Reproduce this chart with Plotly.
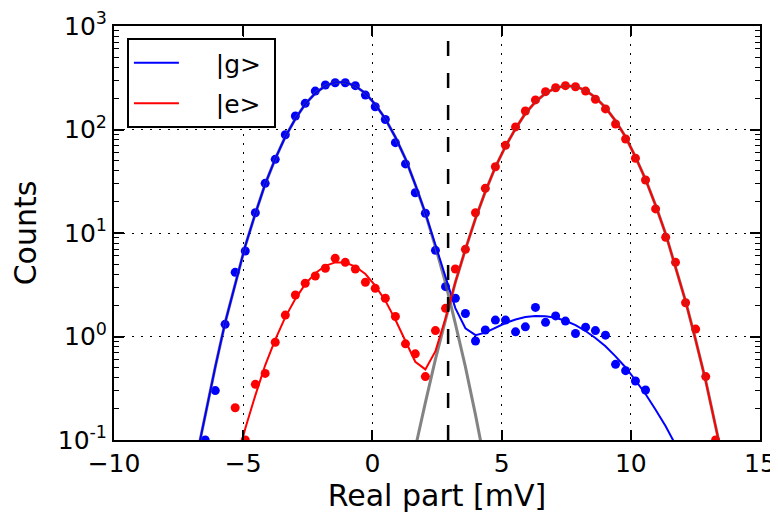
import plotly.graph_objects as go

# bin centres of the histogram [mV]
real_mv = [-6.86, -6.47, -6.08, -5.70, -5.31, -4.92, -4.53, -4.15, -3.76, -3.37,
           -2.98, -2.60, -2.21, -1.82, -1.44, -1.05, -0.66, -0.27, 0.11, 0.50,
           0.89, 1.28, 1.66, 2.05, 2.44, 2.83, 3.21, 3.60, 3.99, 4.37,
           4.76, 5.15, 5.54, 5.92, 6.31, 6.70, 7.09, 7.47, 7.86, 8.25,
           8.63, 9.02, 9.41, 9.80, 10.18, 10.57, 10.96, 11.35, 11.73, 12.12,
           12.51, 12.90, 13.28, 13.67]

# measured histograms
counts_g = [None, 0.1, 0.30, 1.31, 4.17, 6.7, 15.7, 30.2, 51.5, 89,
            135, 179, 235, 269, 283, 283, 265, 215, 166, 125,
            74.6, 46.5, 24.5, 15.5, 6.8, 3.03, 2.34, 1.67, 0.905, 1.156,
            1.44, 1.44, 1.11, 1.24, 1.91, 1.37, 1.58, 1.41, 1.07, 1.23,
            1.14, 1.03, 0.538, 0.468, 0.372, 0.304, None, None, None, None,
            None, None, None, None]
counts_e = [None, None, None, None, 0.205, 0.1, 0.345, 0.44, 0.88, 1.61,
            2.52, 3.27, 3.84, 4.56, 5.69, 5.21, 4.49, 3.34, 2.92, 2.34,
            1.56, 0.85, 0.68, 0.41, 1.14, 1.87, 4.49, 6.95, 15.7, 27,
            43.7, 70.3, 106, 151, 193, 232, 253, 265, 259, 235,
            196, 158, 113, 81, 52.7, 32.5, 17.1, 9.09, 5.21, 2.12,
            1.18, 0.41, 0.1, None]

# fitted curves (double gaussian fits)
fit_g = [0.0586, 0.179, 0.509, 1.36, 3.30, 7.50, 15.4, 29.7, 52.0, 85.1,
         127, 176, 224, 264, 286, 286, 263, 224, 175, 127,
         84.1, 52.1, 29.3, 15.6, 7.66, 3.72, 1.88, 1.20, 1.03, 1.09,
         1.21, 1.35, 1.46, 1.54, 1.58, 1.57, 1.52, 1.42, 1.29, 1.13,
         0.968, 0.804, 0.643, 0.502, 0.378, 0.278, 0.196, 0.136, 0.090, 0.059,
         None, None, None, None]
fit_e = [None, None, None, None, 0.056, 0.129, 0.270, 0.527, 0.933, 1.54,
         2.31, 3.21, 4.09, 4.82, 5.20, 5.19, 4.74, 4.01, 3.10, 2.22,
         1.45, 0.909, 0.570, 0.481, 0.722, 1.50, 3.35, 6.96, 13.8, 25.1,
         43.4, 68.7, 102, 143, 185, 224, 252, 265, 261, 239,
         204, 163, 121, 84.5, 54.3, 33.0, 18.5, 9.79, 4.75, 2.19,
         0.925, 0.372, 0.136, 0.0478]

# single gaussian components
gauss_g = [0.0586, 0.179, 0.509, 1.36, 3.30, 7.50, 15.4, 29.7, 52.0, 85.1,
           127, 176, 224, 264, 286, 286, 263, 224, 175, 127,
           84.1, 52.0, 29.2, 15.4, 7.35, 3.30, 1.33, 0.509, 0.175, 0.0569,
           None, None, None, None, None, None, None, None, None, None,
           None, None, None, None, None, None, None, None, None, None,
           None, None, None, None]
gauss_e = [None, None, None, None, None, None, None, None, None, None,
           None, None, None, None, None, None, None, None, None, None,
           None, 0.0276, 0.0836, 0.230, 0.605, 1.45, 3.33, 6.95, 13.8, 25.1,
           43.4, 68.7, 102, 143, 185, 224, 252, 265, 261, 239,
           204, 163, 121, 84.5, 54.3, 33.0, 18.5, 9.79, 4.75, 2.19,
           0.925, 0.372, 0.136, 0.0478]

threshold = 2.93

x_ticks = [-10, -5, 0, 5, 10, 15]
x_labels = ["\u221210", "\u22125", "0", "5", "10", "15"]
y_ticks = [0.1, 1, 10, 100, 1000]
y_labels = ["10<sup>-1</sup>", "10<sup>0</sup>", "10<sup>1</sup>", "10<sup>2</sup>", "10<sup>3</sup>"]

fig = go.Figure()

# data points
fig.add_trace(go.Scatter(x=real_mv, y=counts_g, mode="markers",
                         marker=dict(color="#0000ff", size=9), showlegend=False))
fig.add_trace(go.Scatter(x=real_mv, y=counts_e, mode="markers",
                         marker=dict(color="#ff0000", size=9), showlegend=False))

# gray single gaussians
for g in [gauss_g, gauss_e]:
    fig.add_trace(go.Scatter(x=real_mv, y=g, mode="lines",
                             line=dict(color="rgba(90,90,90,0.75)", width=3),
                             showlegend=False))

# fits
fig.add_trace(go.Scatter(x=real_mv, y=fit_g, mode="lines", name="    |g> ",
                         legendgroup="g", line=dict(color="#0000ff", width=2)))
fig.add_trace(go.Scatter(x=real_mv, y=fit_e, mode="lines", name="    |e> ",
                         legendgroup="e", line=dict(color="#ff0000", width=2)))

# threshold
fig.add_vline(x=threshold, line=dict(color="black", width=2.5, dash="15px,17px"))

# page body has an 8px margin, so the figure is a bit smaller than the window
fig.update_layout(
    width=770, height=508,
    margin=dict(l=106, r=18, t=18, b=76),
    plot_bgcolor="white", paper_bgcolor="white",
    font=dict(family="DejaVu Sans", size=25, color="black"),
    legend=dict(x=0.02, y=0.971, xanchor="left", yanchor="top",
                bordercolor="black", borderwidth=2, bgcolor="white",
                tracegroupgap=5, itemwidth=45, font=dict(size=25)),
)

fig.update_xaxes(
    range=[-10, 15], tickvals=x_ticks, ticktext=x_labels,
    ticks="inside", ticklen=10, tickwidth=1.5, tickcolor="black",
    showline=True, linewidth=2, linecolor="black", mirror="allticks",
    showgrid=True, gridcolor="black", gridwidth=1.3, griddash="2px,7px",
    zeroline=False, automargin=False,
    title=dict(text="Real part [mV]", standoff=4),
)
fig.update_yaxes(
    type="log", range=[-1, 3], tickvals=y_ticks, ticktext=y_labels,
    ticks="inside", ticklen=10, tickwidth=1.5, tickcolor="black",
    minor=dict(ticks="inside", ticklen=5, tickcolor="black", tickwidth=1.2,
               dtick="D1", showgrid=False),
    showline=True, linewidth=2, linecolor="black", mirror="allticks",
    showgrid=True, gridcolor="black", gridwidth=1.3, griddash="2px,7px",
    zeroline=False, automargin=False, ticklabelstandoff=0,
    title=dict(text="Counts", standoff=15),
)

fig.write_html("out.html")
